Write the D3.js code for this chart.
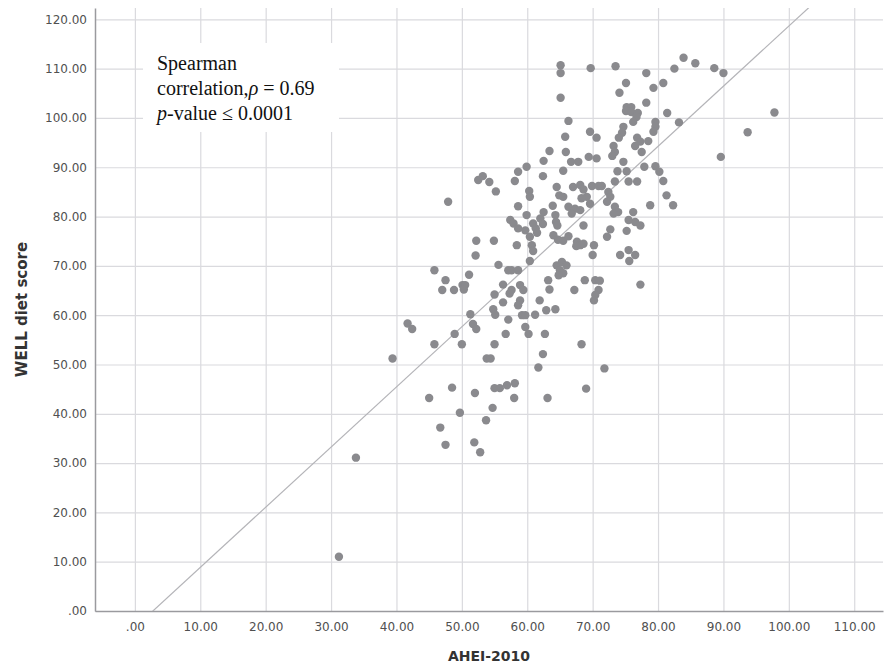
<!DOCTYPE html>
<html><head><meta charset="utf-8">
<script src="https://cdn.jsdelivr.net/npm/d3@7/dist/d3.min.js"></script>
<style>body{margin:0;background:#fff}</style>
</head><body><svg id="c" width="885" height="669"></svg>
<script>
// ---- data ----
const xTicks = [0,10,20,30,40,50,60,70,80,90,100,110];
const yTicks = [0,10,20,30,40,50,60,70,80,90,100,110,120];
const xTitle = "AHEI-2010";
const yTitle = "WELL diet score";
const ahei = [31.2,33.8,39.4,41.7,42.4,45.0,45.8,45.8,46.7,47.0,47.5,47.5,47.9,48.5,48.8,48.9,49.7,50.0,50.1,50.5,50.3,51.1,51.3,51.7,51.9,52.0,52.1,52.2,52.2,52.5,52.8,53.2,53.7,53.8,54.2,54.4,54.7,54.8,54.9,55.0,55.0,55.0,55.1,55.2,55.6,55.8,56.3,56.3,56.7,56.9,57.1,57.1,57.3,58.1,
64.0,64.7,65.5,66.3,67.6,68.1,68.6,67.5,70.2,70.0,74.2,75.5,76.5,75.6,77.3,58.4,60.7,60.9,60.4,57.6,58.6,64.5,65.3,66.0,65.0,65.5,64.8,63.2,63.4,57.6,58.9,59.4,68.8,70.4,71.1,67.2,70.9,70.4,70.2,58.9,58.6,61.9,62.9,64.3,59.2,59.7,61.2,59.7,60.2,62.7,68.3,62.4,61.7,71.8,69.0,58.0,63.1,
65.1,65.1,69.7,73.5,78.2,82.5,83.9,85.7,75.1,74.1,79.3,80.8,65.1,78.2,75.2,75.9,75.1,75.9,76.9,76.7,76.2,81.4,83.2,66.3,79.6,79.6,79.3,74.7,74.5,74.0,69.6,70.6,65.8,76.8,76.5,77.3,78.5,73.2,73.4,73.0,77.5,63.4,65.9,69.4,70.6,62.5,66.7,67.8,74.7,59.9,58.6,58.1,62.4,65.5,77.9,79.6,80.2,80.8,73.8,75.2,73.4,75.5,76.8,81.3,82.3,78.8,60.3,60.4,64.5,64.9,65.5,67.0,68.1,68.6,69.9,70.9,71.4,72.4,72.7,72.2,69.1,69.6,68.3,58.6,63.9,66.3,67.3,68.1,66.8,59.9,62.5,73.4,73.9,73.2,76.2,76.5,75.5,77.3,75.2,64.3,64.4,64.6,62.0,62.4,57.4,57.9,58.6,59.7,60.9,61.3,61.5,68.6,72.7,72.2,60.4,88.6,90.0,97.8,93.7,89.6];
const well = [11.0,31.1,51.2,58.3,57.2,43.2,54.1,69.1,37.2,65.1,67.1,33.7,83.0,45.3,65.1,56.2,40.2,54.1,66.1,66.1,65.2,68.2,60.2,58.2,34.2,44.2,72.1,75.1,57.2,87.4,32.2,88.2,38.7,51.2,87.0,51.2,41.2,61.2,75.1,64.2,54.1,45.2,60.1,85.1,70.2,45.2,66.2,62.6,56.2,45.8,69.1,59.1,64.4,46.2,
76.2,75.3,75.1,76.0,74.9,74.2,74.5,74.0,74.2,72.2,72.2,73.2,72.2,71.0,66.2,74.2,74.2,73.0,71.0,69.1,69.1,70.1,70.8,70.1,69.1,68.5,68.1,67.1,65.2,65.1,66.1,65.1,67.1,67.1,67.0,65.1,65.1,64.1,63.0,63.0,62.0,63.0,61.0,61.2,60.0,60.0,60.1,57.6,56.2,56.2,54.1,52.1,49.4,49.2,45.1,43.2,43.2,
110.7,109.1,110.1,110.5,109.1,110.0,112.2,111.1,107.1,105.1,106.1,107.1,104.1,103.1,102.2,102.2,101.4,101.2,101.0,100.2,99.2,101.0,99.1,99.4,99.2,98.2,97.2,98.2,97.0,96.0,97.2,96.0,96.2,96.0,94.3,95.2,95.3,94.3,93.1,92.3,93.1,93.3,93.1,92.1,91.8,91.3,91.1,91.1,91.1,90.1,89.1,87.2,88.2,89.3,90.1,90.2,89.1,87.2,89.2,89.2,87.1,87.1,87.1,84.3,82.3,82.3,85.2,84.0,86.0,84.3,84.0,86.0,86.4,85.5,86.2,86.2,86.2,85.0,84.0,83.0,84.0,82.6,83.7,82.1,82.2,82.0,81.6,81.3,80.6,80.3,80.9,82.0,80.9,80.6,80.9,78.9,79.3,78.2,77.1,80.3,78.9,78.2,79.6,78.5,79.3,78.6,77.6,77.2,78.6,77.6,76.7,78.2,77.4,75.9,75.9,110.1,109.1,101.1,97.1,92.1];
const fitLine = [-3.36, 1.22]; // intercept, slope
const noteLines = [
  [{t:"Spearman", i:false}],
  [{t:"correlation,", i:false},{t:"\u03C1", i:true},{t:" = 0.69", i:false}],
  [{t:"p", i:true},{t:"-value \u2264 0.0001", i:false}]
];

// ---- drawing ----
const svg = d3.select("#c");
const L = 95, R = 883, T = 8, B = 611;
const x = d3.scaleLinear().domain([-6.1, 114.4]).range([L, R]);
const y = d3.scaleLinear().domain([0, 122.3]).range([B, T]);
const fmt = d => d === 0 ? ".00" : d.toFixed(2);

const gridColor = "#dadade";
svg.append("g").attr("transform", `translate(0,${B})`)
  .call(d3.axisBottom(x).tickValues(xTicks).tickSize(-(B - T)).tickFormat(""))
  .call(g => { g.select(".domain").remove(); g.selectAll("line").attr("stroke", gridColor).attr("stroke-width", 1.2); });
svg.append("g").attr("transform", `translate(${L},0)`)
  .call(d3.axisLeft(y).tickValues(yTicks).tickSize(-(R - L)).tickFormat(""))
  .call(g => { g.select(".domain").remove(); g.selectAll("line").attr("stroke", gridColor).attr("stroke-width", 1.2); });

// annotation box (covers grid)
svg.append("rect").attr("x", 143).attr("y", 43).attr("width", 196).attr("height", 89).attr("fill", "#fff");
const note = svg.append("text").attr("font-family", "'Liberation Serif','Times New Roman',serif")
  .attr("font-size", 20).attr("fill", "#111");
noteLines.forEach((ln, k) => {
  const row = note.append("tspan").attr("x", 157).attr("y", 70 + k * 25);
  ln.forEach((s, j) => {
    const ts = j === 0 ? row : note.append("tspan");
    ts.text(s.t).attr("font-style", s.i ? "italic" : "normal");
  });
});

// axes
const axisColor = "#9a9a9e";
const xAxis = svg.append("g").attr("transform", `translate(0,${B})`)
  .call(d3.axisBottom(x).tickValues(xTicks).tickSize(0).tickPadding(11).tickFormat(fmt));
const yAxis = svg.append("g").attr("transform", `translate(${L},0)`)
  .call(d3.axisLeft(y).tickValues(yTicks).tickSize(0).tickPadding(8).tickFormat(fmt));
[xAxis, yAxis].forEach(a => {
  a.select(".domain").attr("stroke", axisColor).attr("stroke-width", 1.5);
  a.selectAll("text").attr("font-family", "'DejaVu Sans',sans-serif").attr("font-size", 12).attr("fill", "#505050");
});

// fit line (clipped to plot)
svg.append("clipPath").attr("id", "clip").append("rect")
  .attr("x", L).attr("y", T).attr("width", R - L).attr("height", B - T);
const xd = x.domain();
svg.append("line").attr("clip-path", "url(#clip)")
  .attr("x1", x(xd[0])).attr("y1", y(fitLine[0] + fitLine[1] * xd[0]))
  .attr("x2", x(xd[1])).attr("y2", y(fitLine[0] + fitLine[1] * xd[1]))
  .attr("stroke", "#b4b4b8").attr("stroke-width", 1.2);

// points
svg.append("g").selectAll("circle").data(ahei.map((v, i) => [v, well[i]])).join("circle")
  .attr("cx", d => x(d[0])).attr("cy", d => y(d[1])).attr("r", 4.2).attr("fill", "#8a8a8e");

// titles
svg.append("text").attr("x", (L + R) / 2).attr("y", 661).attr("text-anchor", "middle")
  .attr("font-family", "'DejaVu Sans',sans-serif").attr("font-weight", "bold").attr("font-size", 14).attr("fill", "#333")
  .text(xTitle);
svg.append("text").attr("transform", `translate(27,${(T + B) / 2}) rotate(-90)`).attr("text-anchor", "middle")
  .attr("font-family", "'DejaVu Sans',sans-serif").attr("font-weight", "bold").attr("font-size", 15).attr("fill", "#333")
  .text(yTitle);
</script></body></html>
